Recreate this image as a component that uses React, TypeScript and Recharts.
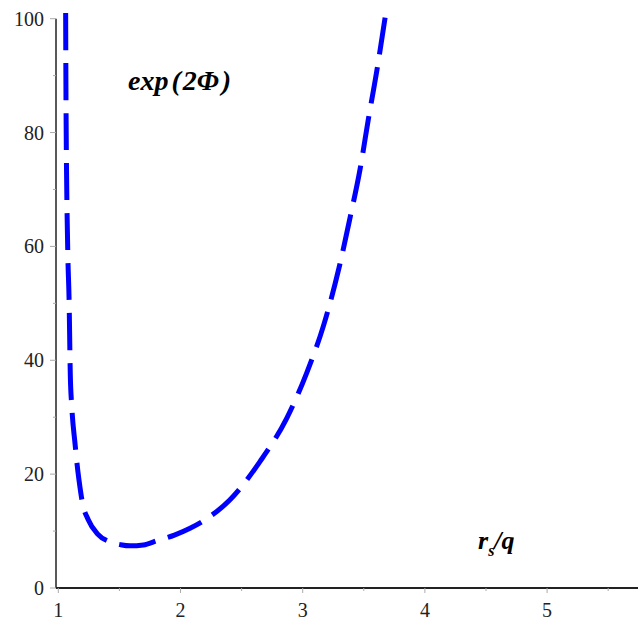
import React from "react";
import { LineChart, Line, XAxis, YAxis, ReferenceLine, Customized } from "recharts";

const xValues = [
  1.06, 1.063, 1.077, 1.088, 1.098, 1.11, 1.137, 1.16, 1.178, 1.197, 1.245, 1.32, 1.423, 1.51,
  1.587, 1.696, 1.805, 1.95, 2.078, 2.187, 2.405, 2.65, 2.869, 3.033, 3.169, 3.3, 3.387,
  3.469, 3.537, 3.606, 3.68,
];
const yValues = [
  101, 85, 59.5, 50.7, 37.5, 31.9, 25.3, 20.5, 17.6, 15.0, 12.0, 9.5, 8.1, 7.6,
  7.4, 7.56, 8.3, 9.3, 10.5, 11.8, 15.5, 22.2, 29.8, 37.8, 46.0, 56.5, 65.0,
  73.5, 82.3, 90.8, 101,
];
const xTicks = [1, 1.5, 2, 2.5, 3, 3.5, 4, 4.5, 5, 5.5];
const yTicks = [0, 10, 20, 30, 40, 50, 60, 70, 80, 90, 100];
const xMin = 0.981;
const xMax = 5.744;

const data = xValues.map((x, i) => ({ x, y: yValues[i] }));

const FONT = "'Liberation Serif', 'DejaVu Serif', serif";

const XTick = (props: any) => {
  const { x, y, payload } = props;
  const major = Number.isInteger(payload.value);
  return (
    <g>
      <line x1={x} x2={x} y1={y} y2={y + (major ? 5 : 3)} stroke="#aaa" strokeWidth={1} />
      {major && (
        <text x={x} y={y + 29} textAnchor="middle" fontFamily={FONT} fontSize={20} fill="#222">
          {payload.value}
        </text>
      )}
    </g>
  );
};

const YTick = (props: any) => {
  const { x, y, payload } = props;
  const major = payload.value % 20 === 0;
  return (
    <g>
      <line x1={x} x2={x - (major ? 6 : 3)} y1={y} y2={y} stroke="#aaa" strokeWidth={1} />
      {major && (
        <text x={x - 12} y={y + 7} textAnchor="end" fontFamily={FONT} fontSize={20} fill="#222">
          {payload.value}
        </text>
      )}
    </g>
  );
};

const Labels = () => (
  <g>
    <text x={128} y={90} fontFamily={FONT} fontSize={28} fontStyle="italic" fontWeight="bold" fill="#000">
      exp
      <tspan dx={3}>(</tspan>
      <tspan dx={2}>2Φ</tspan>
      <tspan dx={3}>)</tspan>
    </text>
    <text x={478} y={549} fontFamily={FONT} fontSize={26} fontStyle="italic" fontWeight="bold" fill="#000">
      r
      <tspan fontSize={16} dy={7}>s</tspan>
      <tspan dy={-7}>/q</tspan>
    </text>
  </g>
);

export default function App() {
  return (
    <div style={{ position: "absolute", left: 0, top: 0, background: "#fff" }}>
      <LineChart
        width={638}
        height={619}
        data={data}
        margin={{ top: 13, right: 0, bottom: 0, left: 0 }}
      >
        <XAxis
          dataKey="x"
          type="number"
          domain={[xMin, xMax]}
          ticks={xTicks}
          allowDataOverflow
          height={31}
          tickSize={0}
          tickMargin={0}
          tickLine={false}
          axisLine={{ stroke: "#222", strokeWidth: 2 }}
          tick={<XTick />}
          interval={0}
        />
        <YAxis
          type="number"
          domain={[0, 101]}
          ticks={yTicks}
          allowDataOverflow
          width={56}
          tickSize={0}
          tickMargin={0}
          tickLine={false}
          axisLine={false}
          tick={<YTick />}
          interval={0}
        />
        <ReferenceLine
          segment={[
            { x: xMin, y: 0 },
            { x: xMin, y: 100 },
          ]}
          stroke="#222"
          strokeWidth={1.5}
          ifOverflow="visible"
        />
        <Line
          dataKey="y"
          type="monotone"
          stroke="#0000ff"
          strokeWidth={5}
          strokeDasharray="37 13"
          dot={false}
          isAnimationActive={false}
        />
        <Customized component={Labels} />
      </LineChart>
    </div>
  );
}
